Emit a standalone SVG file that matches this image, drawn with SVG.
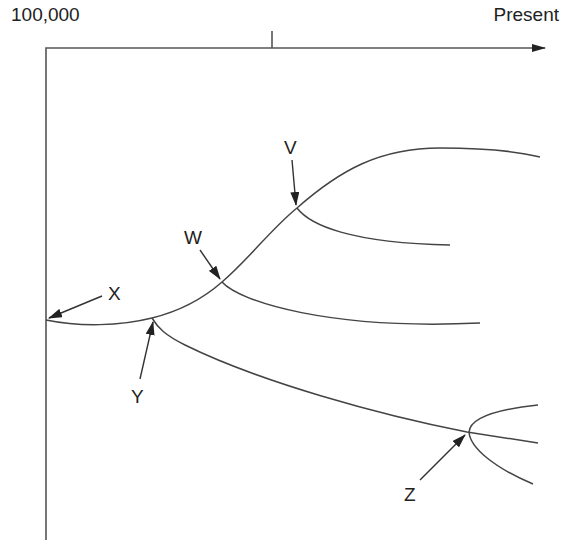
<svg xmlns="http://www.w3.org/2000/svg" width="563" height="540" viewBox="0 0 563 540">
<style>
.ln{fill:none;stroke:#444;stroke-width:1.5}
.ax{fill:none;stroke:#555;stroke-width:1.6}
.ptr{fill:none;stroke:#333;stroke-width:1.4;marker-end:url(#ah)}
text{font-family:"Liberation Sans",Arial,sans-serif;font-size:19px;fill:#222}
</style>
<defs>
<marker id="ah" markerWidth="14" markerHeight="9" refX="13" refY="4.5" orient="auto" markerUnits="userSpaceOnUse">
<path d="M0,0 L14,4.5 L0,9 Z" fill="#222"/>
</marker>
<marker id="axh" markerWidth="14" markerHeight="8" refX="13" refY="4" orient="auto" markerUnits="userSpaceOnUse">
<path d="M0,0 L14,4 L0,8 Z" fill="#222"/>
</marker>
</defs>
<g id="axes">
<path class="ax" d="M46,540 L46,48 L545,48" marker-end="url(#axh)"/>
<line class="ax" x1="272" y1="31" x2="272" y2="48"/>
<text x="11" y="21">100,000</text>
<text x="559" y="21" text-anchor="end">Present</text>
</g>
<g id="connectors">
<path class="ln" d="M46,320 C80,327 120,326 152,318 C180,311 205,297 222,282 C250,258 270,230 297,208 C340,170 380,148 440,148 C490,148 520,152 540,157"/>
<path class="ln" d="M297,208 C310,225 350,243 450,245"/>
<path class="ln" d="M222,282 C240,302 330,330 480,323"/>
<path class="ln" d="M152,318 C158,328 165,335 185,345 C260,382 380,415 467,432 L538,443"/>
<path class="ln" d="M469,432 C470,420 490,410 538,405"/>
<path class="ln" d="M469,432 C470,448 495,468 533,484"/>
</g>
<g id="label-X"><path class="ptr" d="M102,296 L49,318"/><text x="108" y="300">X</text></g>
<g id="label-Y"><path class="ptr" d="M140,379 L153,322"/><text x="131" y="403">Y</text></g>
<g id="label-W"><path class="ptr" d="M200,250 L220,279"/><text x="184" y="244">W</text></g>
<g id="label-V"><path class="ptr" d="M292,160 L296,205"/><text x="284" y="154">V</text></g>
<g id="label-Z"><path class="ptr" d="M420,480 L465,435"/><text x="404" y="501">Z</text></g>
</svg>
